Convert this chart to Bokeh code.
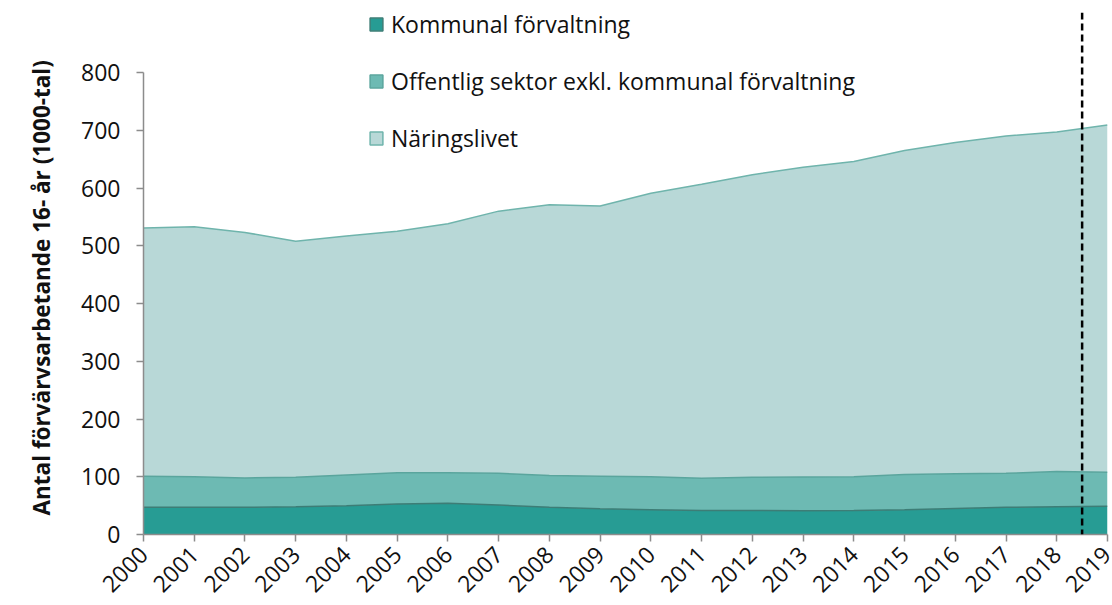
import math
from bokeh.plotting import figure
from bokeh.models import ColumnDataSource, Span, Legend, LegendItem, FixedTicker, Title
from bokeh.embed import file_html
from bokeh.resources import INLINE

years = list(range(2000, 2020))
kommunal = [47, 47, 47, 48, 50, 53, 54, 51, 47, 44.5, 43, 41.5, 41.5, 41, 41.5, 43, 45, 47, 48, 49]
offentlig = [54, 53, 51, 51, 53, 54, 53, 55, 55, 56.5, 57, 56, 57.5, 58.5, 58.5, 61, 60, 59, 61, 59]
naringsliv = [430, 433, 425, 409, 414, 418, 431, 454, 469, 468, 491, 509, 524, 536.5, 546, 561, 574, 584, 588, 601]
series_names = ["Kommunal förvaltning", "Offentlig sektor exkl. kommunal förvaltning", "Näringslivet"]
y_ticks = [0, 100, 200, 300, 400, 500, 600, 700, 800]
prognos_grans = 2018.5
y_title = "Antal förvärvsarbetande 16- år (1000-tal)"

fills = ["#279c94", "#6dbab3", "#b8d8d7"]
edges = ["#3d7d76", "#5aa59d", "#6fb4ac"]

src = ColumnDataSource(dict(year=years, k=kommunal, o=offentlig, n=naringsliv))

p = figure(width=1112, height=605, output_backend="svg", toolbar_location=None,
           x_range=(2000, 2019), y_range=(0, 904),
           min_border_left=143, min_border_right=5, min_border_top=12, min_border_bottom=71)

p.varea_stack(stackers=["k", "o", "n"], x="year", color=fills, source=src)
p.vline_stack(["k", "o", "n"], x="year", color=edges, line_width=1.5, source=src)

# legend proxies: hidden quads bound to the data (only their legend swatch is drawn)
items = []
for name, col, fc, lc in zip(series_names, ["k", "o", "n"], fills, edges):
    r = p.quad(left="year", right="year", top=col, bottom=col, source=src,
               fill_color=fc, line_color=lc, line_width=1.5, visible=False)
    items.append(LegendItem(label=name, renderers=[r]))

legend = Legend(items=items, location=(225, 380), orientation="vertical",
                glyph_width=16, glyph_height=16, label_height=30, label_standoff=7, spacing=25,
                padding=0, margin=0, border_line_color=None, background_fill_alpha=0,
                inactive_fill_alpha=0, click_policy="none",
                label_text_font="Open Sans", label_text_font_size="23px", label_text_color="#111111")
p.add_layout(legend)

span = Span(location=prognos_grans, dimension="height", line_color="black", line_dash="7 4", line_width=2.5)
p.add_layout(span)

p.xgrid.visible = False
p.ygrid.visible = False
p.outline_line_color = None

p.xaxis.ticker = FixedTicker(ticks=years)
p.xaxis.major_label_orientation = math.pi / 4
p.yaxis.ticker = FixedTicker(ticks=y_ticks)
p.yaxis.bounds = (0, 800)

for ax in (p.xaxis[0], p.yaxis[0]):
    ax.axis_line_color = "#8c8c8c"
    ax.axis_line_width = 1.5
    ax.major_tick_line_color = "#8c8c8c"
    ax.major_tick_line_width = 1.5
    ax.major_tick_in = 0
    ax.major_tick_out = 7
    ax.minor_tick_line_color = None
    ax.major_label_text_font = "Open Sans"
    ax.major_label_text_font_size = "23px"
    ax.major_label_text_color = "#111111"

p.xaxis.major_label_standoff = 9
p.yaxis.major_label_standoff = 16

ytitle = Title(text=y_title, align="left", offset=19, standoff=44, text_font="Open Sans",
               text_font_style="bold", text_font_size="22.5px", text_color="#111111")
p.add_layout(ytitle, "left")

open("out.html", "w").write(file_html(p, INLINE))
